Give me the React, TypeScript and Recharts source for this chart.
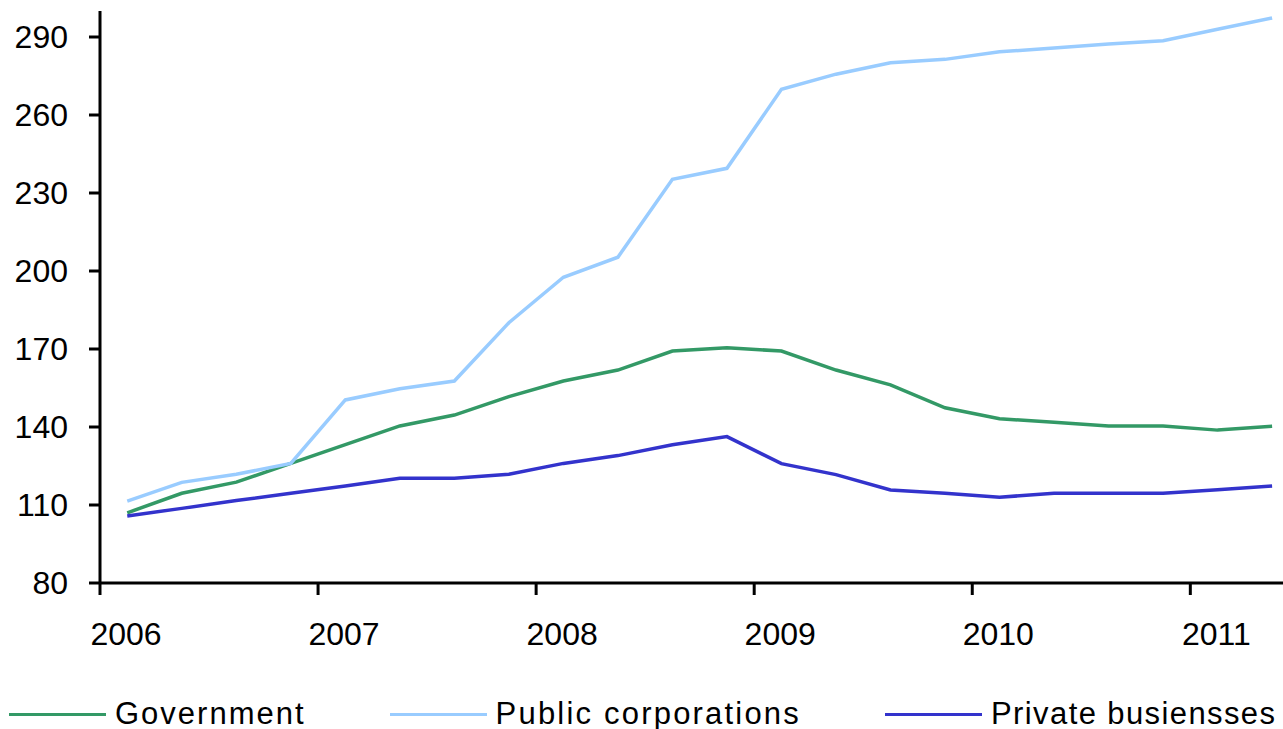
import React from 'react'
import { LineChart, Line, XAxis, YAxis, Legend } from 'recharts'

// quarterly observations, plotted at the middle of each quarter
const quarters = [
  2006.125, 2006.375, 2006.625, 2006.875,
  2007.125, 2007.375, 2007.625, 2007.875,
  2008.125, 2008.375, 2008.625, 2008.875,
  2009.125, 2009.375, 2009.625, 2009.875,
  2010.125, 2010.375, 2010.625, 2010.875,
  2011.125, 2011.375,
]

const government = [
  107, 114.5, 118.8, 126, 133.2, 140.4, 144.6, 151.7, 157.7, 161.9, 169.2,
  170.5, 169.2, 161.9, 156.2, 147.4, 143.2, 141.8, 140.4, 140.4, 138.8, 140.3,
]

const publicCorporations = [
  111.5, 118.7, 121.8, 126, 150.4, 154.7, 157.7, 180.1, 197.6, 205.3, 235.3,
  239.5, 269.9, 275.7, 280.1, 281.4, 284.3, 285.8, 287.3, 288.6, 293, 297.3,
]

const privateBusinesses = [
  105.8, 108.7, 111.7, 114.5, 117.3, 120.3, 120.3, 121.8, 126, 129, 133.2,
  136.3, 125.9, 121.7, 115.8, 114.5, 113, 114.5, 114.5, 114.5, 115.9, 117.3,
]

const yearTicks = [2006, 2007, 2008, 2009, 2010, 2011]
const valueTicks = [80, 110, 140, 170, 200, 230, 260, 290]

const series = [
  { key: 'gov', name: 'Government', color: '#339966', spacing: 2.0 },
  { key: 'pub', name: 'Public corporations', color: '#99CCFF', spacing: 2.2 },
  { key: 'priv', name: 'Private busiensses', color: '#3333CC', spacing: 1.4 },
]

const data = quarters.map((t, i) => ({
  t,
  gov: government[i],
  pub: publicCorporations[i],
  priv: privateBusinesses[i],
}))

const FONT = '"Liberation Sans", Arial, sans-serif'

const LegendRow = () => (
  <div style={{ display: 'flex', alignItems: 'center', paddingLeft: 9, fontFamily: FONT, whiteSpace: 'nowrap', width: 1283 }}>
    {series.map((s) => (
      <div key={s.key} style={{ display: 'flex', alignItems: 'center', marginRight: 84, flexShrink: 0 }}>
        <span style={{ display: 'inline-block', width: 97, height: 3, background: s.color, marginRight: 9, flexShrink: 0 }} />
        <span style={{ fontSize: 31, letterSpacing: s.spacing, color: '#000', lineHeight: '36px', whiteSpace: 'nowrap' }}>{s.name}</span>
      </div>
    ))}
  </div>
)

const App: React.FC = () => {
  return (
    <div style={{ position: 'absolute', left: 0, top: 0, background: '#fff' }}>
      <LineChart width={1283} height={729} data={data} margin={{ top: 11, right: 0, bottom: 0, left: 0 }}>
        <XAxis
          dataKey="t"
          type="number"
          domain={[2006, 2011.425]}
          ticks={yearTicks}
          allowDataOverflow
          height={146}
          tickSize={12}
          tickMargin={27}
          axisLine={{ stroke: '#000', strokeWidth: 3 }}
          tickLine={{ stroke: '#000', strokeWidth: 3 }}
          tick={{ fill: '#000', fontSize: 32, fontFamily: FONT, dx: 26 }}
        />
        <YAxis
          type="number"
          domain={[80, 300]}
          ticks={valueTicks}
          allowDataOverflow
          width={100}
          tickSize={11}
          tickMargin={21}
          axisLine={{ stroke: '#000', strokeWidth: 3 }}
          tickLine={{ stroke: '#000', strokeWidth: 3 }}
          tick={{ fill: '#000', fontSize: 32, fontFamily: FONT }}
        />
        <Legend
          verticalAlign="middle"
          align="center"
          layout="horizontal"
          wrapperStyle={{ top: 696, left: 0, width: 1283 }}
          content={() => <LegendRow />}
        />
        {series.map((s) => (
          <Line
            key={s.key}
            type="linear"
            dataKey={s.key}
            name={s.name}
            stroke={s.color}
            strokeWidth={3.5}
            dot={false}
            activeDot={false}
            isAnimationActive={false}
          />
        ))}
      </LineChart>
    </div>
  )
}

export default App
